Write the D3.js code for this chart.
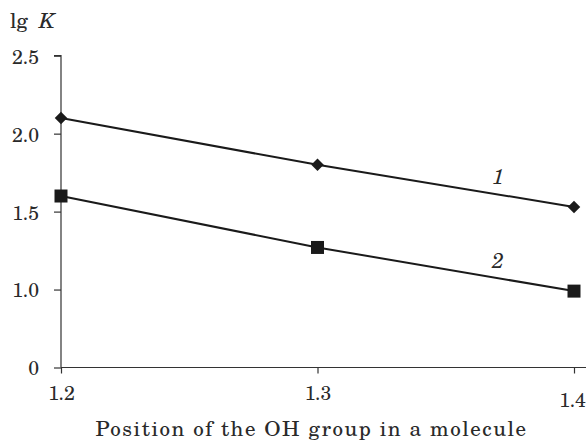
<!DOCTYPE html>
<html>
<head>
<meta charset="utf-8">
<script src="https://cdn.jsdelivr.net/npm/d3@7"></script>
<style>
html,body{margin:0;padding:0;background:#fff;}
svg{display:block;}
</style>
</head>
<body>
<svg id="chart" width="586" height="443"></svg>
<script>
// Data
const positions = [1.2, 1.3, 1.4];
const series1 = [2.10, 1.80, 1.53];   // curve 1 (diamonds)
const series2 = [1.60, 1.27, 0.99];   // curve 2 (squares)
const seriesNames = ["1", "2"];
const xTicks = [1.2, 1.3, 1.4];
const xTickLabels = ["1.2", "1.3", "1.4"];
const yTicks = [0.5, 1.0, 1.5, 2.0, 2.5];
const yTickLabels = ["0", "1.0", "1.5", "2.0", "2.5"];
const xTitle = "Position of the OH group in a molecule";

const W = 586, H = 443;
const svg = d3.select("#chart");

const x = d3.scaleLinear().domain([1.2, 1.4]).range([61, 574]);
const y = d3.scaleLinear().domain([0.5, 2.5]).range([367.5, 55.7]);

const ink = "#1a1a1a";
const textInk = "#2a2a2a";
const FF = "'TeX Gyre Schola', 'DejaVu Serif', serif";

// Y axis
const yAxis = d3.axisLeft(y).tickValues(yTicks)
  .tickFormat((d, i) => yTickLabels[i]).tickSize(7).tickPadding(15);
const gy = svg.append("g").attr("transform", `translate(${x(1.2)},0)`).call(yAxis)
  .attr("font-family", FF).attr("font-size", 19.5);
gy.select(".domain").attr("stroke", "#333").attr("stroke-width", 1.2).attr("d", `M-7,${y(2.5)}H0V${y(0.5)}`);
gy.selectAll(".tick line").attr("stroke", "#333").attr("stroke-width", 1.2);
gy.selectAll(".tick text").attr("fill", textInk).attr("dy", "0.38em");

// X axis
const xAxis = d3.axisBottom(x).tickValues(xTicks)
  .tickFormat((d, i) => xTickLabels[i]).tickSize(6).tickPadding(13);
const gx = svg.append("g").attr("transform", `translate(0,${y(0.5)})`).call(xAxis)
  .attr("font-family", FF).attr("font-size", 19.5);
gx.select(".domain").remove();
gx.append("line").attr("x1", x(1.2)).attr("x2", W).attr("y1", 0).attr("y2", 0)
  .attr("stroke", "#333").attr("stroke-width", 1.2);
gx.selectAll(".tick line").attr("stroke", "#333").attr("stroke-width", 1.2);
gx.selectAll(".tick text").attr("fill", textInk)
  .attr("dy", (d, i) => i === xTicks.length - 1 ? "1.05em" : "0.71em")
  .attr("dx", (d, i) => i === xTicks.length - 1 ? "-0.1em" : 0);

// Axis titles
svg.append("text").attr("x", 311.5).attr("y", 436).attr("text-anchor", "middle")
  .attr("font-family", FF).attr("font-size", 21).attr("letter-spacing", 1.5)
  .attr("fill", textInk).text(xTitle);

const yt = svg.append("text").attr("x", 10).attr("y", 28).attr("font-family", FF)
  .attr("font-size", 21).attr("fill", textInk);
yt.append("tspan").text("lg");
yt.append("tspan").attr("dx", 11).attr("font-style", "italic").text("K");

// Lines
const line = d3.line().x((d, i) => x(positions[i])).y(d => y(d));
[series1, series2].forEach(s => {
  svg.append("path").datum(s).attr("d", line).attr("fill", "none")
    .attr("stroke", ink).attr("stroke-width", 2);
});

// Markers
svg.selectAll(".m1").data(series1).enter().append("path")
  .attr("d", d3.symbol().type(d3.symbolSquare).size(78))
  .attr("transform", (d, i) => `translate(${x(positions[i])},${y(d)}) rotate(45)`)
  .attr("fill", ink);
svg.selectAll(".m2").data(series2).enter().append("path")
  .attr("d", d3.symbol().type(d3.symbolSquare).size(169))
  .attr("transform", (d, i) => `translate(${x(positions[i])},${y(d)})`)
  .attr("fill", ink);

// Series labels
const labelPos = 1.37;
[series1, series2].forEach((s, k) => {
  const v = s[1] + (s[2] - s[1]) * (labelPos - 1.3) / 0.1;
  svg.append("text").attr("x", x(labelPos) + 1).attr("y", y(v) - 10)
    .attr("text-anchor", "middle").attr("font-family", FF).attr("font-size", 21)
    .attr("font-style", "italic").attr("fill", textInk)
    .text(seriesNames[k]);
});
</script>
</body>
</html>
